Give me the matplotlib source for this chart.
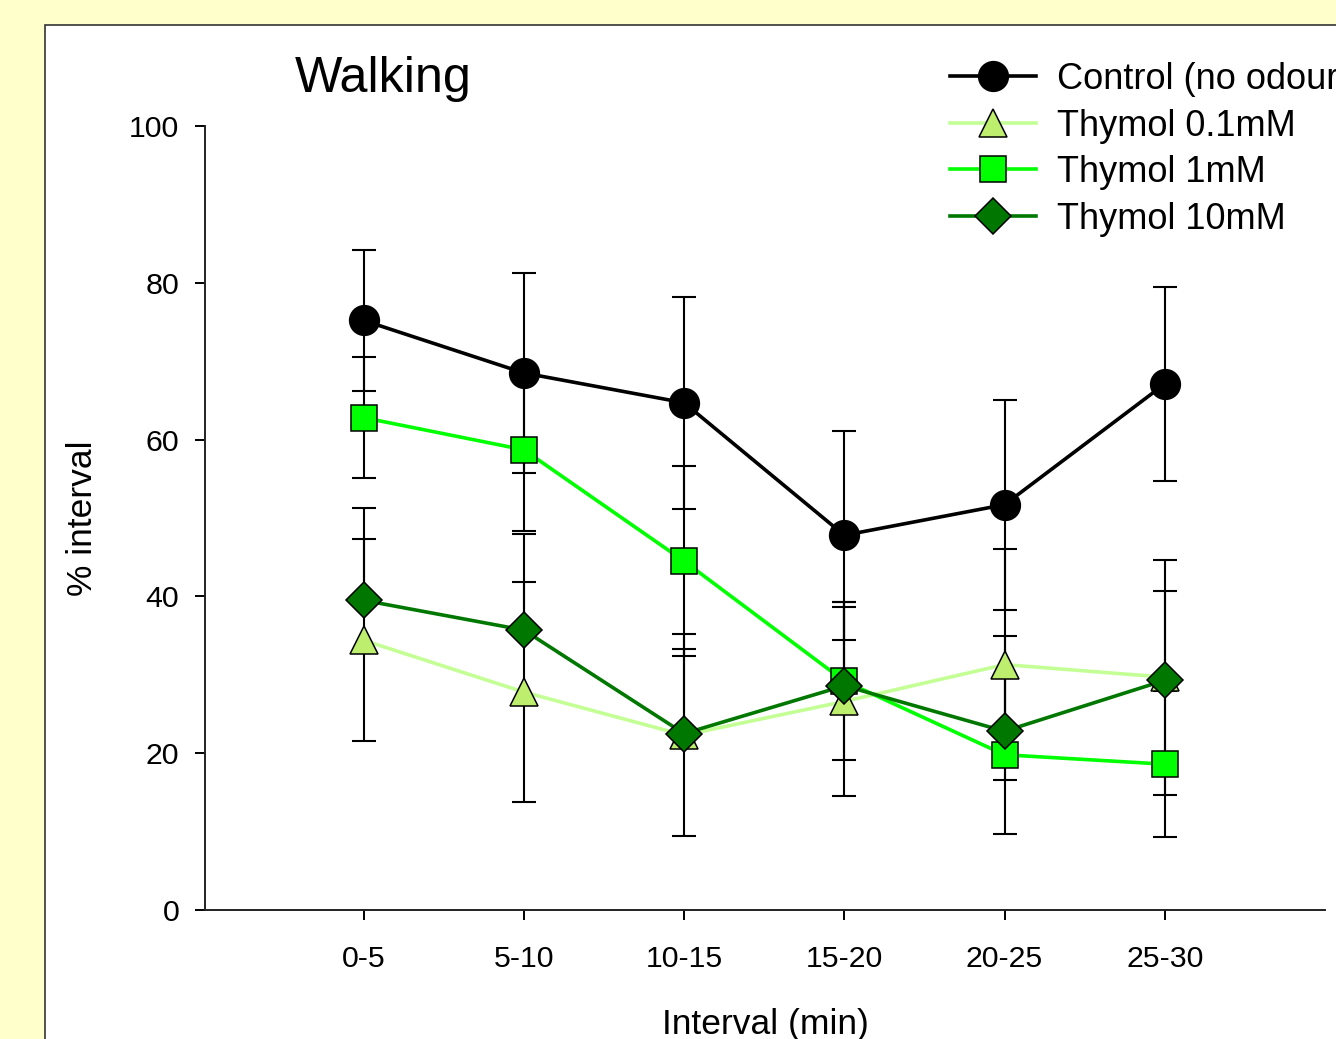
import matplotlib
matplotlib.use("Agg")
import matplotlib.pyplot as plt
import matplotlib.patches as mpatches
import numpy as np

plt.rcParams['font.family'] = ['Liberation Sans', 'DejaVu Sans']

# walking time per 5 min interval, mean and error
intervals = ['0-5', '5-10', '10-15', '15-20', '20-25', '25-30']
control = [75.2, 68.5, 64.7, 47.8, 51.7, 67.1]
control_err = [9.0, 12.7, 13.5, 13.3, 13.4, 12.4]
thy01 = [34.4, 27.8, 22.3, 26.6, 31.3, 29.7]
thy01_err = [12.9, 14.0, 12.9, 12.0, 14.7, 15.0]
thy1 = [62.8, 58.7, 44.5, 29.2, 19.8, 18.6]
thy1_err = [7.7, 10.4, 12.1, 10.1, 10.1, 9.3]
thy10 = [39.5, 35.7, 22.5, 28.6, 22.8, 29.3]
thy10_err = [11.8, 12.2, 10.8, 10.7, 12.1, 11.4]

W, H = 1336, 1039
fig = plt.figure(figsize=(W / 100, H / 100), dpi=100)
fig.patch.set_facecolor('#FFFFCC')

# white panel with dark border, behind the axes
panel = mpatches.Rectangle((45 / W, -0.1), 1.2, 1.1 - 25 / H,
                           transform=fig.transFigure, facecolor='white',
                           edgecolor='#333333', linewidth=1.2, zorder=-10)
fig.patches.append(panel)

ax = fig.add_axes([205 / W, 1 - 910 / H, 1120 / W, 784 / H])
ax.set_facecolor('none')

x = np.arange(len(intervals))

# error bars underneath everything
eb = dict(fmt='none', ecolor='black', elinewidth=1.5, capsize=8.3, capthick=1.5, zorder=2)
ax.errorbar(x, control, yerr=control_err, **eb)
ax.errorbar(x, thy01, yerr=thy01_err, **eb)
ax.errorbar(x, thy1, yerr=thy1_err, **eb)
ax.errorbar(x, thy10, yerr=[np.zeros(len(thy10)), thy10_err], **eb)

ax.plot(x, control, color='black', lw=2.6, marker='o', ms=21.5,
        mfc='black', mec='black', mew=1.0, label='Control (no odour)', zorder=3)
ax.plot(x, thy01, color='#C4FF96', lw=2.6, marker='^', ms=20,
        mfc='#BEEE6E', mec='black', mew=1.1, label='Thymol 0.1mM', zorder=4)
ax.plot(x, thy1, color='#00FF00', lw=2.6, marker='s', ms=19,
        mfc='#00FF00', mec='black', mew=1.1, label='Thymol 1mM', zorder=5)
ax.plot(x, thy10, color='#007800', lw=2.6, marker='D', ms=18,
        mfc='#007800', mec='black', mew=1.1, label='Thymol 10mM', zorder=6)

ax.set_xlim(-0.99, 6.0)
ax.set_ylim(0, 100)
ax.set_xticks(x)
ax.set_xticklabels(intervals)
ax.set_yticks(np.arange(0, 101, 20))

for s in ['top', 'right']:
    ax.spines[s].set_visible(False)
for s in ['left', 'bottom']:
    ax.spines[s].set_linewidth(1.4)
    ax.spines[s].set_color('#222222')

ax.tick_params(axis='x', direction='out', length=7.5, width=1.4, pad=17.5, labelsize=21.8)
ax.tick_params(axis='y', direction='out', length=7.5, width=1.4, pad=11, labelsize=21.8)

ax.set_xlabel('Interval (min)', fontsize=25.5)
ax.set_ylabel('% interval', fontsize=25.5)
ax.xaxis.set_label_coords(0.5, -0.125)
ax.yaxis.set_label_coords(-0.095, 0.5)

fig.text(295 / W, 1 - 91.7 / H, 'Walking', fontsize=36.2, va='baseline', ha='left')

ax.legend(loc='upper left', bbox_to_anchor=(950 / W, 1 - 62 / H),
          bbox_transform=fig.transFigure, frameon=False, fontsize=26,
          handlelength=2.37, handletextpad=0.6, labelspacing=0.32,
          borderpad=0, borderaxespad=0)

fig.savefig('out.png', dpi=100, facecolor=fig.get_facecolor())
